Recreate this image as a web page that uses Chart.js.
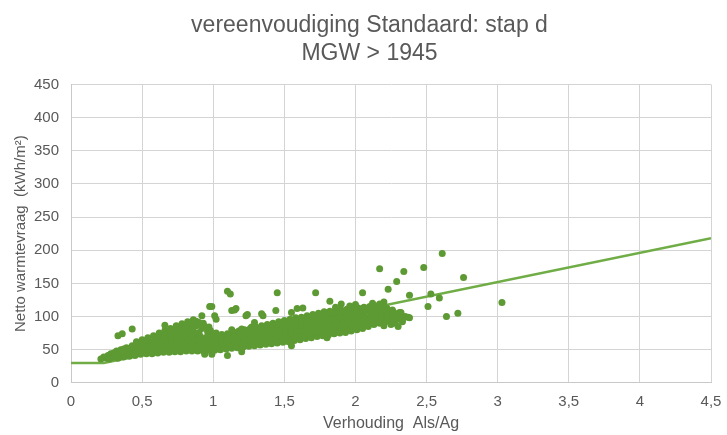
<!DOCTYPE html>
<html>
<head>
<meta charset="utf-8">
<script src="https://cdn.jsdelivr.net/npm/chart.js@4"></script>
<style>
  body { margin: 0; background: #fff; }
</style>
</head>
<body>
<canvas id="myChart" width="727" height="435"></canvas>
<script>
// measured dwellings: [Als/Ag, netto warmtevraag]
var measured = [
  [0.21,36],[0.23,39],[0.25,37],[0.26,41],[0.27,36],[0.28,44],
  [0.29,38],[0.30,45],[0.31,40],[0.32,48],
  [0.33,37],[0.34,43],[0.35,50],[0.36,40],[0.35,46],
  [0.37,39],[0.38,47],[0.39,53],[0.40,42],[0.38,44],
  [0.41,40],[0.42,49],[0.43,56],[0.44,45],[0.42,52],
  [0.45,41],[0.46,50],[0.47,58],[0.48,45],[0.46,62],[0.47,54],
  [0.49,43],[0.50,51],[0.51,60],[0.52,47],[0.50,65],[0.51,56],
  [0.53,44],[0.54,52],[0.55,61],[0.56,48],[0.54,68],[0.55,57],
  [0.57,44],[0.58,53],[0.59,63],[0.60,49],[0.58,71],[0.59,58],[0.60,67],
  [0.61,45],[0.62,54],[0.63,64],[0.64,50],[0.62,75],[0.63,59],[0.64,70],
  [0.65,46],[0.66,55],[0.67,65],[0.68,51],[0.66,79],[0.67,60],[0.68,72],
  [0.69,46],[0.70,56],[0.71,66],[0.72,52],[0.70,82],[0.71,61],[0.72,75],[0.70,70],
  [0.73,47],[0.74,57],[0.75,67],[0.76,52],[0.74,86],[0.75,62],[0.76,78],[0.74,72],
  [0.77,47],[0.78,58],[0.79,68],[0.80,53],[0.78,89],[0.79,63],[0.80,81],[0.78,74],
  [0.81,48],[0.82,58],[0.83,69],[0.84,53],[0.82,92],[0.83,64],[0.84,84],[0.82,76],
  [0.85,48],[0.86,59],[0.87,70],[0.88,54],[0.86,95],[0.87,65],[0.88,86],[0.86,78],
  [0.89,48],[0.90,59],[0.91,70],[0.92,54],[0.90,91],[0.91,64],[0.92,82],[0.90,76],
  [0.93,48],[0.94,58],[0.95,68],[0.96,53],[0.94,85],[0.95,63],[0.96,77],
  [0.97,49],[0.98,57],[0.99,66],[1.00,52],[0.98,79],[0.99,61],[1.00,72],
  [1.01,49],[1.02,57],[1.03,65],[1.04,53],[1.02,75],[1.03,61],[1.04,70],
  [1.05,50],[1.06,57],[1.07,64],[1.08,54],[1.06,73],[1.07,60],[1.08,69],
  [1.09,51],[1.10,58],[1.11,65],[1.12,55],[1.10,74],[1.11,61],[1.12,70],
  [1.13,52],[1.14,59],[1.15,66],[1.16,56],[1.14,76],[1.15,62],[1.16,71],
  [1.17,53],[1.18,60],[1.19,67],[1.20,57],[1.18,78],[1.19,63],[1.20,72],
  [1.21,54],[1.22,61],[1.23,68],[1.24,58],[1.22,80],[1.23,64],[1.24,74],
  [1.25,55],[1.26,62],[1.27,70],[1.28,59],[1.26,82],[1.27,66],[1.28,76],
  [1.29,56],[1.30,63],[1.31,71],[1.32,60],[1.30,84],[1.31,67],[1.32,78],
  [1.33,57],[1.34,64],[1.35,72],[1.36,61],[1.34,86],[1.35,68],[1.36,79],[1.34,75],
  [1.37,58],[1.38,65],[1.39,73],[1.40,62],[1.38,88],[1.39,69],[1.40,81],[1.38,77],
  [1.41,59],[1.42,66],[1.43,75],[1.44,63],[1.42,90],[1.43,71],[1.44,83],[1.42,79],
  [1.45,60],[1.46,68],[1.47,76],[1.48,64],[1.46,92],[1.47,72],[1.48,85],[1.46,80],
  [1.49,61],[1.50,69],[1.51,78],[1.52,65],[1.50,94],[1.51,74],[1.52,87],[1.50,82],
  [1.53,62],[1.54,70],[1.55,79],[1.56,66],[1.54,96],[1.55,75],[1.56,88],[1.54,84],
  [1.57,64],[1.58,72],[1.59,81],[1.60,68],[1.58,98],[1.59,77],[1.60,90],[1.58,86],
  [1.61,65],[1.62,73],[1.63,82],[1.64,69],[1.62,99],[1.63,78],[1.64,92],[1.62,87],
  [1.65,67],[1.66,75],[1.67,84],[1.68,71],[1.66,101],[1.67,80],[1.68,93],[1.66,89],
  [1.69,68],[1.70,76],[1.71,85],[1.72,72],[1.70,103],[1.71,81],[1.72,95],[1.70,90],
  [1.73,70],[1.74,78],[1.75,87],[1.76,74],[1.74,105],[1.75,83],[1.76,97],[1.74,92],
  [1.77,71],[1.78,79],[1.79,88],[1.80,75],[1.78,107],[1.79,84],[1.80,99],[1.78,93],
  [1.81,72],[1.82,81],[1.83,90],[1.84,77],[1.82,108],[1.83,86],[1.84,100],[1.82,95],
  [1.85,74],[1.86,82],[1.87,91],[1.88,78],[1.86,109],[1.87,87],[1.88,101],[1.86,96],
  [1.89,75],[1.90,84],[1.91,93],[1.92,80],[1.90,110],[1.91,89],[1.92,103],[1.90,98],
  [1.93,76],[1.94,85],[1.95,94],[1.96,81],[1.94,111],[1.95,90],[1.96,104],[1.94,99],
  [1.97,78],[1.98,87],[1.99,96],[2.00,83],[1.98,112],[1.99,92],[2.00,106],[1.98,101],
  [2.01,80],[2.02,88],[2.03,97],[2.04,85],[2.02,113],[2.03,93],[2.04,107],[2.02,103],
  [2.05,82],[2.06,90],[2.07,99],[2.08,87],[2.06,114],[2.07,95],[2.08,108],[2.06,104],
  [2.09,85],[2.10,92],[2.11,101],[2.12,89],[2.10,115],[2.11,97],[2.12,109],
  [2.13,88],[2.14,94],[2.15,103],[2.16,91],[2.14,116],[2.15,99],[2.16,110],
  [2.17,90],[2.18,96],[2.19,104],[2.20,93],[2.18,115],[2.19,100],[2.20,110],
  [2.21,92],[2.22,98],[2.23,105],[2.24,95],[2.22,113],[2.23,102],
  [2.25,94],[2.26,100],[2.27,106],[2.28,97],[2.26,110],
  [2.29,96],[2.30,103],[2.31,99],
  // in between
  [0.31,43],[0.37,51],[0.44,53],[0.48,60],[0.53,64],[0.57,62],[0.61,68],[0.65,72],
  [0.69,76],[0.73,80],[0.77,84],[0.81,87],[0.85,90],[0.88,93],[0.93,90],[0.97,84],
  [0.84,73],[0.79,78],[0.71,58],[0.63,48],[0.56,54],[0.89,65],[0.96,70],[1.05,66],
  [1.09,62],[1.13,80],[1.17,74],[1.21,70],[1.25,78],[1.29,74],[1.33,81],[1.37,84],
  [1.41,86],[1.45,88],[1.49,90],[1.53,92],[1.57,94],[1.61,96],[1.65,97],[1.69,99],
  [1.73,101],[1.77,103],[1.81,104],[1.85,106],[1.89,107],[1.93,108],[1.97,109],[2.01,110],
  [2.05,111],[2.09,112],[2.13,113],[1.43,66],[1.57,70],[1.71,78],[1.85,86],[1.99,99],
  [2.13,100],[1.11,53],[1.27,58],[0.75,50],[0.91,51],[2.20,122],[2.12,120],[2.00,118],
  [1.96,116],[1.86,114],
  // loose points
  [0.43,81],[0.33,71],[0.36,74],[0.66,87],[0.92,101],[0.975,115],[1.10,138],[1.12,134],
  [1.13,109],[1.16,112],[1.01,101],[1.02,96],[1.23,101],[1.34,104],[1.44,109],[1.45,136],
  [1.55,106],[1.59,112],[1.63,113],[1.72,136],[1.82,123],[1.90,119],[2.05,136],[2.23,141],
  [2.17,119],[2.31,106],[2.37,99],[2.20,86],[1.20,81],[1.27,84],[1.10,41],[0.99,43],
  [0.94,43],[1.20,47],[2.17,172],[2.61,195],[2.48,174],[2.34,168],[2.29,153],[2.76,159],
  [2.38,132],[2.53,134],[2.59,128],[2.51,115],[3.03,121],[2.72,105],[2.64,100],[2.38,98],
  [2.33,94],[2.32,106],[0.99,115],[1.15,110],[1.24,103],[1.35,101],[1.29,91],[1.15,76],
  [2.25,88],[2.28,90],[2.30,85],[2.33,92],[2.27,95],[2.35,100],[1.55,56],[1.80,68]
];

// fitted line: floor of 30, then rising
var fitLine = [[0,30],[0.23,30],[4.5,218]];

var xTickLabels = ['0','0,5','1','1,5','2','2,5','3','3,5','4','4,5'];
var yMax = 450;

var grey = '#595959';

var ctx = document.getElementById('myChart').getContext('2d');
var myChart = new Chart(ctx, {
    type: 'scatter',
    data: {
        datasets: [{
          label: 'metingen',
          data: measured.map(function (p) { return {x: p[0], y: p[1]}; }),
          backgroundColor: '#5e9a33',
          borderWidth: 0,
          pointRadius: 3.5
        }, {
          label: 'lijn',
          data: fitLine.map(function (p) { return {x: p[0], y: p[1]}; }),
          showLine: true,
          borderColor: '#70ad47',
          borderWidth: 2.5,
          pointRadius: 0
        }]
    },
    options: {
      responsive: false,
      animation: false,
      layout: { padding: { left: 12, right: 0, bottom: 0 } },
      plugins: {
        legend: { display: false },
        tooltip: { enabled: false },
        title: {
          display: true,
          text: ['vereenvoudiging Standaard: stap d', 'MGW > 1945'],
          color: grey,
          font: { family: 'Liberation Sans', size: 23, weight: 'normal', lineHeight: 1.25 },
          padding: { top: 11, bottom: 16 }
        }
      },
      scales: {
        x: {
          type: 'linear',
          min: 0,
          max: 4.5,
          grid: { color: '#d4d4d4', drawTicks: false },
          border: { color: '#c8c8c8' },
          afterFit: function (scale) { scale.paddingRight = 16; },
          ticks: {
            stepSize: 0.5,
            color: grey,
            padding: 10,
            font: { family: 'Liberation Sans', size: 15 },
            callback: function (v, i) { return xTickLabels[i]; }
          },
          title: {
            display: true,
            text: 'Verhouding  Als/Ag',
            color: grey,
            font: { family: 'Liberation Sans', size: 16 },
            padding: { top: -7, bottom: 2 }
          }
        },
        y: {
          min: 0,
          max: yMax,
          grid: { color: '#d4d4d4', drawTicks: false },
          border: { color: '#c8c8c8' },
          ticks: {
            stepSize: 50,
            color: grey,
            padding: 12,
            font: { family: 'Liberation Sans', size: 15 }
          },
          title: {
            display: true,
            text: 'Netto warmtevraag  (kWh/m²)',
            color: grey,
            font: { family: 'Liberation Sans', size: 15 },
            padding: { top: 0, bottom: -8 }
          }
        }
      }
    }
});
</script>
</body>
</html>
